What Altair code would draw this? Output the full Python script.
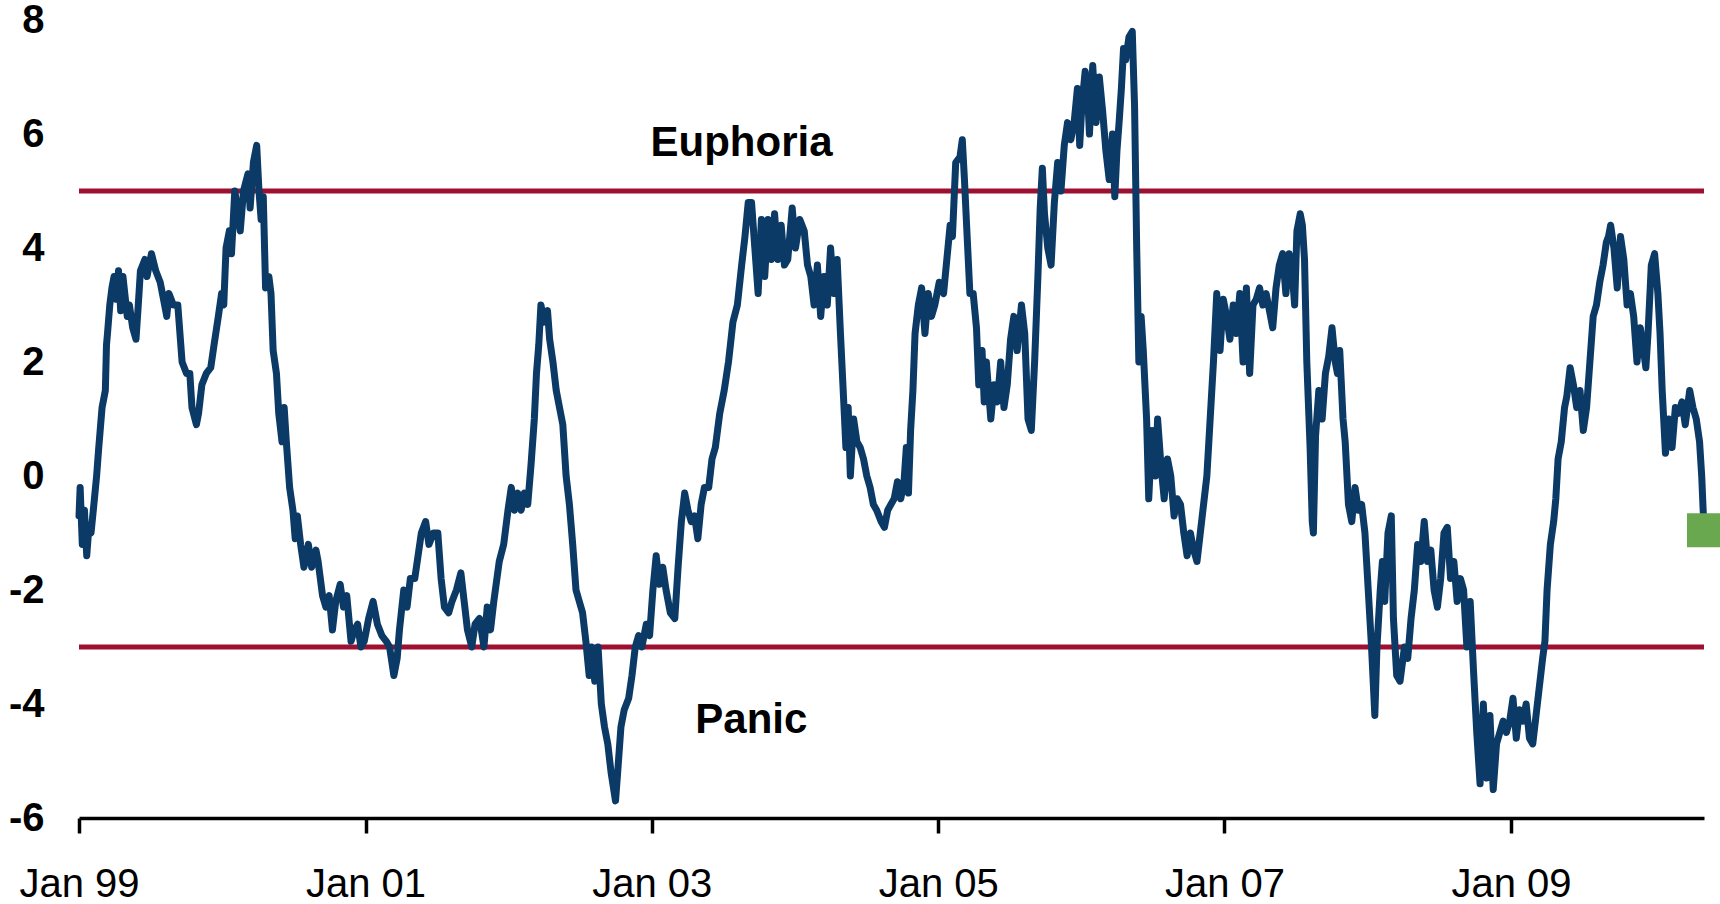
import altair as alt
import pandas as pd

# Sentiment index: time in years elapsed since 1 Jan 1999, and the index level
t_years = [
    0.000, 0.008, 0.023, 0.038, 0.054, 0.069, 0.084, 0.100, 0.123, 0.138, 0.161, 0.184, 0.192, 0.199,
    0.215, 0.230, 0.245, 0.261, 0.276, 0.291, 0.307, 0.337, 0.352, 0.375, 0.398, 0.414, 0.429, 0.460,
    0.475, 0.506, 0.536, 0.567, 0.598, 0.613, 0.628, 0.659, 0.690, 0.720, 0.751, 0.774, 0.789, 0.820,
    0.835, 0.858, 0.889, 0.920, 0.943, 0.973, 0.996, 1.011, 1.027, 1.050, 1.065, 1.088, 1.111, 1.126,
    1.149, 1.180, 1.195, 1.218, 1.241, 1.257, 1.272, 1.287, 1.303, 1.326, 1.341, 1.356, 1.379, 1.395,
    1.418, 1.433, 1.448, 1.471, 1.494, 1.510, 1.525, 1.548, 1.571, 1.602, 1.625, 1.655, 1.670, 1.701,
    1.724, 1.747, 1.770, 1.793, 1.824, 1.847, 1.870, 1.900, 1.923, 1.946, 1.969, 1.992, 2.023, 2.054,
    2.084, 2.115, 2.146, 2.169, 2.199, 2.222, 2.238, 2.268, 2.291, 2.314, 2.345, 2.368, 2.391, 2.421,
    2.444, 2.475, 2.506, 2.529, 2.552, 2.582, 2.605, 2.636, 2.667, 2.690, 2.713, 2.743, 2.766, 2.797,
    2.828, 2.851, 2.874, 2.897, 2.935, 2.966, 2.996, 3.019, 3.042, 3.065, 3.088, 3.111, 3.134, 3.157,
    3.180, 3.195, 3.211, 3.226, 3.249, 3.272, 3.287, 3.310, 3.333, 3.356, 3.379, 3.402, 3.425, 3.448,
    3.471, 3.494, 3.517, 3.540, 3.563, 3.579, 3.602, 3.625, 3.648, 3.670, 3.693, 3.716, 3.747, 3.762,
    3.785, 3.808, 3.839, 3.862, 3.885, 3.908, 3.931, 3.962, 3.985, 4.008, 4.031, 4.054, 4.077, 4.100,
    4.130, 4.161, 4.184, 4.207, 4.230, 4.253, 4.276, 4.299, 4.322, 4.345, 4.368, 4.398, 4.421, 4.444,
    4.475, 4.506, 4.536, 4.567, 4.598, 4.628, 4.651, 4.674, 4.697, 4.720, 4.743, 4.766, 4.789, 4.812,
    4.835, 4.858, 4.881, 4.904, 4.927, 4.950, 4.981, 5.004, 5.034, 5.065, 5.088, 5.111, 5.134, 5.157,
    5.180, 5.203, 5.226, 5.249, 5.272, 5.295, 5.318, 5.341, 5.356, 5.372, 5.387, 5.410, 5.433, 5.456,
    5.479, 5.502, 5.525, 5.548, 5.571, 5.602, 5.625, 5.648, 5.670, 5.693, 5.716, 5.739, 5.762, 5.778,
    5.793, 5.808, 5.824, 5.839, 5.862, 5.885, 5.908, 5.931, 5.954, 5.977, 6.008, 6.038, 6.061, 6.084,
    6.100, 6.123, 6.153, 6.169, 6.184, 6.199, 6.222, 6.245, 6.268, 6.284, 6.307, 6.322, 6.337, 6.368,
    6.391, 6.414, 6.437, 6.460, 6.483, 6.506, 6.529, 6.552, 6.582, 6.605, 6.628, 6.651, 6.674, 6.697,
    6.713, 6.728, 6.743, 6.766, 6.789, 6.812, 6.835, 6.858, 6.881, 6.904, 6.927, 6.950, 6.973, 6.989,
    7.004, 7.027, 7.042, 7.057, 7.080, 7.103, 7.126, 7.149, 7.172, 7.195, 7.218, 7.234, 7.249, 7.264,
    7.280, 7.295, 7.310, 7.333, 7.356, 7.372, 7.387, 7.402, 7.418, 7.433, 7.456, 7.471, 7.494, 7.517,
    7.533, 7.556, 7.579, 7.602, 7.625, 7.648, 7.670, 7.693, 7.716, 7.739, 7.762, 7.785, 7.808, 7.831,
    7.854, 7.877, 7.900, 7.923, 7.946, 7.969, 7.992, 8.015, 8.038, 8.061, 8.084, 8.107, 8.130, 8.153,
    8.176, 8.199, 8.222, 8.245, 8.268, 8.291, 8.314, 8.337, 8.360, 8.383, 8.406, 8.429, 8.452, 8.475,
    8.490, 8.506, 8.529, 8.544, 8.559, 8.575, 8.598, 8.613, 8.621, 8.636, 8.659, 8.682, 8.705, 8.728,
    8.751, 8.774, 8.789, 8.805, 8.828, 8.843, 8.866, 8.889, 8.912, 8.935, 8.958, 8.981, 9.004, 9.027,
    9.050, 9.065, 9.088, 9.103, 9.119, 9.142, 9.165, 9.180, 9.203, 9.226, 9.257, 9.280, 9.303, 9.326,
    9.349, 9.372, 9.395, 9.418, 9.441, 9.464, 9.487, 9.510, 9.533, 9.556, 9.579, 9.602, 9.625, 9.648,
    9.670, 9.693, 9.716, 9.739, 9.762, 9.785, 9.808, 9.831, 9.854, 9.877, 9.900, 9.923, 9.946, 9.969,
    9.992, 10.015, 10.038, 10.061, 10.084, 10.107, 10.130, 10.153, 10.176, 10.199, 10.222, 10.238,
    10.253, 10.276, 10.299, 10.314, 10.330, 10.352, 10.375, 10.391, 10.414, 10.437, 10.460, 10.483,
    10.506, 10.529, 10.552, 10.575, 10.598, 10.621, 10.644, 10.667, 10.682, 10.697, 10.720, 10.743,
    10.766, 10.789, 10.812, 10.835, 10.858, 10.881, 10.904, 10.927, 10.943, 10.958, 10.981, 11.004,
    11.027, 11.042, 11.057, 11.080, 11.103, 11.126, 11.149, 11.172, 11.195, 11.218, 11.249, 11.272,
    11.295, 11.318, 11.333, 11.349,
]

index_level = [
    -0.7, -0.2, -1.2, -0.6, -1.4, -0.9, -1.0, -0.6, 0.0, 0.5, 1.2, 1.5, 2.3, 2.5,
    3.0, 3.3, 3.5, 3.1, 3.6, 2.9, 3.5, 2.8, 3.0, 2.6, 2.4, 3.0, 3.6, 3.8,
    3.5, 3.9, 3.6, 3.4, 3.0, 2.8, 3.2, 3.0, 3.0, 2.0, 1.8, 1.8, 1.2, 0.9,
    1.1, 1.6, 1.8, 1.9, 2.3, 2.8, 3.2, 3.0, 4.0, 4.3, 3.9, 5.0, 4.6, 4.3,
    5.0, 5.3, 4.7, 5.5, 5.8, 5.0, 4.5, 4.9, 3.3, 3.5, 3.2, 2.2, 1.8, 1.1,
    0.6, 1.2, 0.6, -0.2, -0.6, -1.1, -0.7, -1.2, -1.6, -1.2, -1.6, -1.3, -1.5, -2.1,
    -2.3, -2.1, -2.7, -2.2, -1.9, -2.3, -2.1, -2.9, -2.7, -2.6, -3.0, -2.9, -2.5, -2.2,
    -2.6, -2.8, -2.9, -3.0, -3.5, -3.2, -2.7, -2.0, -2.3, -1.8, -1.8, -1.4, -1.0, -0.8,
    -1.2, -1.0, -1.0, -1.8, -2.3, -2.4, -2.2, -2.0, -1.7, -2.2, -2.7, -3.0, -2.6, -2.5,
    -3.0, -2.3, -2.7, -2.2, -1.5, -1.2, -0.6, -0.2, -0.6, -0.3, -0.6, -0.3, -0.5, 0.2,
    1.0, 1.8, 2.3, 3.0, 2.7, 2.9, 2.4, 2.0, 1.5, 1.2, 0.9, 0.0, -0.5, -1.2,
    -2.0, -2.2, -2.4, -2.9, -3.5, -3.0, -3.6, -3.0, -4.0, -4.4, -4.7, -5.2, -5.7, -5.2,
    -4.4, -4.1, -3.9, -3.5, -3.0, -2.8, -3.0, -2.6, -2.8, -2.0, -1.4, -1.9, -1.6, -2.0,
    -2.4, -2.5, -1.6, -0.8, -0.3, -0.6, -0.8, -0.7, -1.1, -0.5, -0.2, -0.2, 0.3, 0.5,
    1.1, 1.5, 2.0, 2.7, 3.0, 3.7, 4.2, 4.8, 4.8, 4.0, 3.2, 4.5, 3.5, 4.5,
    3.8, 4.6, 3.8, 4.4, 3.7, 3.8, 4.7, 4.0, 4.5, 4.3, 3.7, 3.5, 3.0, 3.7,
    2.8, 3.5, 3.0, 4.0, 3.2, 3.8, 2.5, 1.3, 0.5, 1.2, 0.0, 1.0, 0.6, 0.5,
    0.3, 0.0, -0.2, -0.5, -0.6, -0.8, -0.9, -0.6, -0.5, -0.4, -0.1, -0.4, -0.1, 0.5,
    -0.3, 0.8, 1.5, 2.5, 3.0, 3.3, 2.5, 3.2, 2.8, 3.0, 3.4, 3.2, 3.8, 4.4,
    4.2, 5.5, 5.6, 5.9, 5.2, 4.4, 3.2, 3.2, 2.6, 1.6, 2.2, 1.3, 2.0, 1.0,
    1.6, 1.3, 2.0, 1.2, 1.6, 2.4, 2.8, 2.2, 3.0, 2.5, 1.0, 0.8, 2.0, 3.5,
    4.7, 5.4, 4.6, 4.0, 3.7, 4.8, 5.5, 5.0, 5.8, 6.2, 5.9, 6.2, 6.8, 5.8,
    6.5, 7.1, 6.8, 6.0, 7.2, 6.2, 7.0, 6.4, 5.7, 5.2, 6.0, 4.9, 5.7, 6.2,
    6.8, 7.5, 7.3, 7.7, 7.8, 6.5, 4.0, 2.0, 2.8, 2.2, 1.0, -0.4, 0.8, 0.0,
    1.0, 0.2, -0.4, 0.3, 0.0, -0.7, -0.4, -0.5, -1.0, -1.4, -1.0, -1.3, -1.5, -1.0,
    -0.5, 0.0, 1.0, 2.0, 3.2, 2.2, 3.1, 2.8, 2.4, 3.0, 2.5, 3.2, 2.0, 3.3,
    1.8, 3.0, 3.1, 3.3, 3.0, 3.2, 2.9, 2.6, 3.3, 3.7, 3.9, 3.2, 3.9, 3.5,
    3.0, 4.3, 4.6, 4.4, 3.8, 2.0, 0.5, -0.8, -1.0, 0.7, 1.5, 1.0, 1.8, 2.1,
    2.6, 2.0, 1.8, 2.2, 1.0, 0.6, -0.5, -0.8, -0.2, -0.6, -0.5, -1.0, -2.0, -3.0,
    -4.2, -3.0, -2.0, -1.5, -2.2, -1.0, -0.7, -2.5, -3.5, -3.6, -3.0, -3.2, -2.5, -2.0,
    -1.2, -1.5, -0.8, -1.5, -1.3, -2.0, -2.3, -1.8, -1.0, -0.9, -1.8, -1.5, -2.2, -1.8,
    -2.0, -3.0, -2.2, -3.4, -4.5, -5.4, -4.0, -5.3, -4.2, -5.5, -4.7, -4.5, -4.3, -4.5,
    -4.3, -3.9, -4.6, -4.1, -4.3, -4.0, -4.6, -4.7, -4.2, -3.7, -3.2, -2.9,
    -2.0, -1.2, -0.8, -0.4, 0.3, 0.6, 1.2, 1.4, 1.9, 1.6, 1.2, 1.5,
    0.8, 1.2, 2.0, 2.8, 3.0, 3.4, 3.7, 4.1, 4.2, 4.4, 4.0, 3.3,
    4.2, 3.8, 3.0, 3.2, 2.8, 2.0, 2.6, 2.2, 1.9, 2.5, 3.7, 3.9,
    3.2, 2.5, 1.5, 0.4, 1.0, 0.5, 1.2, 1.1, 1.3, 0.9, 1.5, 1.2,
    1.0, 0.6, 0.0, -0.95,
]

# Zone thresholds and their captions
thresholds = [5, -3]
zone_names = ["Euphoria", "Panic"]
zone_label_dates = ["2003-08-18", "2003-09-12"]
zone_label_levels = [5.84, -4.28]

tick_years = [1999, 2001, 2003, 2005, 2007, 2009]
y_ticks = [-6, -4, -2, 0, 2, 4, 6, 8]

start = pd.Timestamp("1999-01-01")
dates = [start + pd.Timedelta(days=t * 365.25) for t in t_years]
series = pd.DataFrame({"date": dates, "level": index_level})
latest = series.tail(1)
zones = pd.DataFrame({"level": thresholds})
captions = pd.DataFrame({
    "date": pd.to_datetime(zone_label_dates),
    "level": zone_label_levels,
    "name": zone_names,
})

x_scale = alt.Scale(domain=[start.isoformat(), dates[-1].isoformat()])
y_scale = alt.Scale(domain=[-6, 8], nice=False, zero=False)

x_enc = alt.X(
    "date:T",
    scale=x_scale,
    axis=alt.Axis(
        values=[alt.DateTime(year=y, month=1, date=1) for y in tick_years],
        format="%b %y",
        title=None,
        grid=False,
        domainColor="black",
        domainWidth=3.5,
        tickColor="black",
        tickWidth=3.5,
        tickSize=15,
        labelFont="Liberation Sans",
        labelFontSize=40,
        labelColor="black",
        labelPadding=31,
        labelFlush=False,
        labelOverlap=False,
    ),
)
y_enc = alt.Y(
    "level:Q",
    scale=y_scale,
    axis=alt.Axis(
        values=y_ticks,
        labelExpr="datum.value + ''",
        title=None,
        grid=False,
        domain=False,
        ticks=False,
        labelFont="Liberation Sans",
        labelFontWeight="bold",
        labelFontSize=40,
        labelColor="black",
        labelPadding=35,
        labelFlush=False,
    ),
)

line = alt.Chart(series).mark_line(
    color="#0B3A66", strokeWidth=7, strokeJoin="round", strokeCap="round"
).encode(x=x_enc, y=y_enc)

rules = alt.Chart(zones).mark_rule(color="#9E1030", strokeWidth=5).encode(
    y=alt.Y("level:Q", scale=y_scale)
)

text = alt.Chart(captions).mark_text(
    font="Liberation Sans", fontWeight="bold", fontSize=42, color="black",
    align="center", baseline="middle",
).encode(
    x=alt.X("date:T", scale=x_scale),
    y=alt.Y("level:Q", scale=y_scale),
    text="name:N",
)

marker = alt.Chart(latest).mark_square(
    color="#6AA84F", size=1156, opacity=1, filled=True
).encode(
    x=alt.X("date:T", scale=x_scale),
    y=alt.Y("level:Q", scale=y_scale),
)

chart = (
    alt.layer(rules, line, text, marker)
    .properties(
        width=1625,
        height=798,
        autosize=alt.AutoSizeParams(type="none"),
        padding={"left": 79, "top": 20, "right": 16, "bottom": 86},
        background="white",
    )
    .configure_view(stroke=None)
)

chart.save("out.html", embed_options={"renderer": "svg", "actions": False})
